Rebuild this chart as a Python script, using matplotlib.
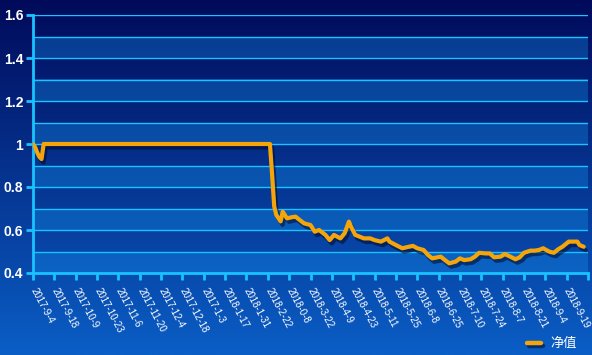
import numpy as np
import matplotlib
matplotlib.use("Agg")
import matplotlib.pyplot as plt
import matplotlib.patheffects as pe
from matplotlib.lines import Line2D

# ---- data ----
tick_labels = ["2017-9-4", "2017-9-18", "2017-10-9", "2017-10-23", "2017-11-6",
               "2017-11-20", "2017-12-4", "2017-12-18", "2017-1-3", "2018-1-17",
               "2018-1-31", "2018-2-22", "2018-0-8", "2018-3-22", "2018-4-9",
               "2018-4-23", "2018-5-11", "2018-5-25", "2018-6-8", "2018-6-25",
               "2018-7-10", "2018-7-24", "2018-8-7", "2018-8-21", "2018-9-4",
               "2018-9-19"]
day_index = [0, 1, 2, 3, 4, 5, 111, 112, 113, 114, 116, 117, 119, 121, 123, 125,
             127, 130, 132, 134, 137, 139, 141, 144, 146, 148, 149, 151, 153, 155,
             158, 160, 163, 166, 167, 170, 173, 176, 178, 180, 183, 185, 187, 191,
             193, 195, 198, 200, 202, 205, 207, 209, 212, 214, 216, 219, 221, 223,
             226, 228, 230, 233, 235, 237, 239, 241, 242, 244, 246, 248, 251, 252,
             255, 256, 258]
nav = [1.0, 0.985, 0.96, 0.94, 0.93, 1.0, 1.0, 0.86, 0.71, 0.67, 0.64, 0.685,
       0.654, 0.659, 0.662, 0.646, 0.631, 0.623, 0.592, 0.60, 0.577, 0.553, 0.577,
       0.561, 0.585, 0.639, 0.615, 0.577, 0.569, 0.561, 0.561, 0.553, 0.546, 0.561,
       0.546, 0.530, 0.515, 0.522, 0.526, 0.515, 0.507, 0.484, 0.468, 0.476, 0.46,
       0.445, 0.453, 0.468, 0.46, 0.464, 0.476, 0.494, 0.491, 0.491, 0.473, 0.476,
       0.488, 0.479, 0.464, 0.473, 0.494, 0.504, 0.504, 0.507, 0.515, 0.504, 0.499,
       0.494, 0.510, 0.522, 0.546, 0.546, 0.546, 0.530, 0.522]
series_name = "净值"
y_ticks = [0.4, 0.6, 0.8, 1.0, 1.2, 1.4, 1.6]
y_tick_labels = ["0.4", "0.6", "0.8", "1", "1.2", "1.4", "1.6"]

W, H = 592, 355
fig = plt.figure(figsize=(W / 100, H / 100), dpi=100)

# background gradient
bg = fig.add_axes([0, 0, 1, 1], zorder=-10)
bg.set_axis_off()
top = np.array([1, 10, 90]) / 255
bot = np.array([10, 94, 198]) / 255
t = np.linspace(0, 1, 256)[:, None]
grad = top[None, :] * (1 - t) + bot[None, :] * t
bg.imshow(grad[:, None, :].repeat(2, axis=1), aspect="auto", extent=[0, 1, 0, 1])

axis_color = "#19c3ff"
L, R, T, B = 33, 588, 15, 273
ax = fig.add_axes([L / W, (H - B) / H, (R - L) / W, (B - T) / H])
ax.patch.set_alpha(0)
n_last = len(tick_labels) * 10
ax.set_xlim(0, n_last)
ax.set_ylim(0.4, 1.6)

# split areas and grid lines
for k in range(12):
    lo = 0.4 + k * 0.1
    if k % 2 == 0:
        ax.axhspan(lo, lo + 0.1, color=(20 / 255, 150 / 255, 240 / 255), alpha=0.33, lw=0, zorder=0)
for k in range(1, 13):
    ax.axhline(0.4 + k * 0.1, color=axis_color, lw=1, zorder=1)

for s in ["top", "right"]:
    ax.spines[s].set_visible(False)
for s in ["left", "bottom"]:
    ax.spines[s].set_color(axis_color)
    ax.spines[s].set_linewidth(2)

ax.set_yticks(y_ticks)
ax.set_yticklabels(y_tick_labels, color="white", fontsize=10, fontweight="bold",
                   family="Liberation Sans")
ax.tick_params(axis="y", length=5, width=2, color=axis_color, pad=2)

xt = list(range(0, n_last + 1, 10))
ax.set_xticks(xt)
ax.set_xticklabels(tick_labels + [""], color="white", fontsize=7.0,
                   family="Liberation Sans", rotation=-62, ha="left",
                   va="center", rotation_mode="anchor")
ax.tick_params(axis="x", length=5, width=2, color=axis_color, pad=6)

line_color = "#f5a50a"
shadow = [pe.SimpleLineShadow(offset=(1.5, -2.5), shadow_color="#00082a", alpha=0.55),
          pe.Normal()]
ax.plot(day_index, nav, color=line_color, lw=3.0, solid_joinstyle="round",
        solid_capstyle="round", zorder=5, path_effects=shadow)

# legend
lg = Line2D([527 / W, 541 / W], [(H - 343) / H, (H - 343) / H], transform=fig.transFigure,
            color=line_color, lw=3.2, solid_capstyle="round", path_effects=shadow)
fig.add_artist(lg)
fig.text(550 / W, (H - 343) / H, series_name, color="white", fontsize=9.5,
         family=["Noto Sans CJK SC", "DejaVu Sans"], va="center", ha="left")

fig.savefig("out.png", dpi=100)
